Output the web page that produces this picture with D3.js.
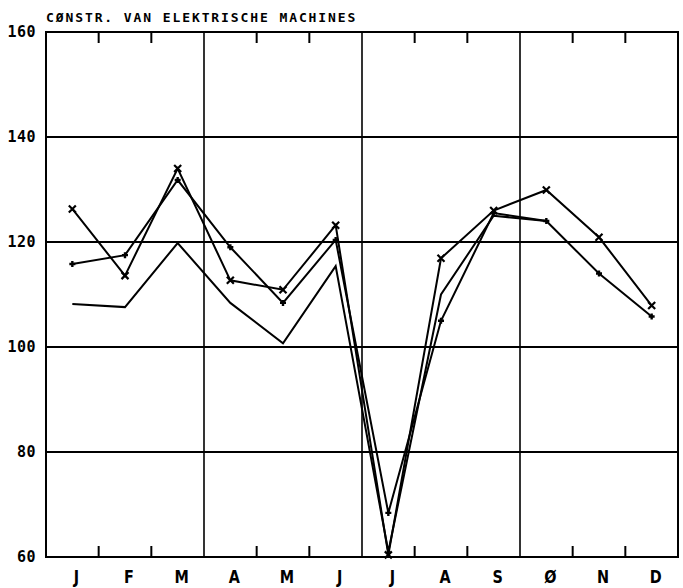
<!DOCTYPE html>
<html>
<head>
<meta charset="utf-8">
<script src="https://cdn.jsdelivr.net/npm/d3@7"></script>
<style>
  body { margin: 0; background: #fff; }
  svg text { fill: #000; }
</style>
</head>
<body>
<svg id="plot" width="683" height="588"></svg>
<script>
// chart data
var months = ["J", "F", "M", "A", "M", "J", "J", "A", "S", "Ø", "N", "D"];
var yTicks = [60, 80, 100, 120, 140, 160];
var seriesCross = [126.3, 113.6, 134.0, 112.7, 110.9, 123.2, 60.4, 116.9, 126.0, 129.9, 120.9, 107.9];
var seriesDot   = [115.8, 117.5, 131.8, 119.0, 108.4, 120.4, 68.4, 105.0, 125.5, 124.0, 114.0, 105.8];
var seriesPlain = [108.2, 107.6, 119.8, 108.4, 100.7, 115.4, 61.0, 110.0, 125.0, 124.0];
var title = "CØNSTR. VAN ELEKTRISCHE MACHINES";

var margin = {top: 32, right: 5, bottom: 31, left: 46},
    width = 683, height = 588;

var svg = d3.select("#plot");

var xScale = d3.scaleLinear()
    .domain([0, months.length])
    .range([margin.left, width - margin.right]);
var yScale = d3.scaleLinear()
    .domain([60, 160])
    .range([height - margin.bottom, margin.top]);

var x0 = xScale(0), x1 = xScale(12), y0 = yScale(60), y1 = yScale(160);

// horizontal grid
svg.append("g")
  .selectAll("line")
  .data(yTicks.filter(d => d > 60 && d < 160))
  .join("line")
    .attr("x1", x0).attr("x2", x1)
    .attr("y1", d => yScale(d)).attr("y2", d => yScale(d))
    .attr("stroke", "#000").attr("stroke-width", 2);

// quarter lines
svg.append("g")
  .selectAll("line")
  .data([3, 6, 9])
  .join("line")
    .attr("x1", d => xScale(d)).attr("x2", d => xScale(d))
    .attr("y1", y1).attr("y2", y0)
    .attr("stroke", "#000").attr("stroke-width", 1.6);

// month ticks top and bottom
var monthTicks = d3.range(1, 12).filter(d => d % 3 != 0);
svg.append("g")
  .selectAll("line")
  .data(monthTicks)
  .join("line")
    .attr("x1", d => xScale(d)).attr("x2", d => xScale(d))
    .attr("y1", y1).attr("y2", y1 + 11)
    .attr("stroke", "#000").attr("stroke-width", 2);
svg.append("g")
  .selectAll("line")
  .data(monthTicks)
  .join("line")
    .attr("x1", d => xScale(d)).attr("x2", d => xScale(d))
    .attr("y1", y0).attr("y2", y0 - 11)
    .attr("stroke", "#000").attr("stroke-width", 2);

// frame
svg.append("rect")
    .attr("x", x0).attr("y", y1)
    .attr("width", x1 - x0).attr("height", y0 - y1)
    .attr("fill", "none")
    .attr("stroke", "#000").attr("stroke-width", 2);

// y labels
svg.append("g")
  .selectAll("text")
  .data(yTicks)
  .join("text")
    .attr("x", 36)
    .attr("y", d => yScale(d) + 5)
    .attr("text-anchor", "end")
    .attr("font-family", "DejaVu Sans Mono")
    .attr("font-weight", "bold")
    .attr("font-size", 15)
    .attr("letter-spacing", 0.5)
    .text(d => d);

// month labels (narrow plotter lettering)
svg.append("g")
  .selectAll("text")
  .data(months)
  .join("text")
    .attr("transform", (d, i) => "translate(" + (xScale(i + 0.5) + 4) + ",583) scale(0.8,1)")
    .attr("text-anchor", "middle")
    .attr("font-family", "DejaVu Sans")
    .attr("font-weight", "bold")
    .attr("font-size", 18)
    .text(d => d);

// title
svg.append("text")
    .attr("x", x0)
    .attr("y", 22)
    .attr("font-family", "DejaVu Sans Mono")
    .attr("font-weight", "bold")
    .attr("font-size", 13)
    .attr("letter-spacing", 1.9)
    .text(title);

var line = d3.line()
    .x((d, i) => xScale(i + 0.5))
    .y(d => yScale(d));

[seriesPlain, seriesDot, seriesCross].forEach(function(s) {
  svg.append("path")
      .datum(s)
      .attr("fill", "none")
      .attr("stroke", "#000")
      .attr("stroke-width", 2)
      .attr("stroke-linejoin", "miter")
      .attr("d", line);
});

// markers: crosses
svg.append("g")
  .selectAll("path")
  .data(seriesCross)
  .join("path")
    .attr("transform", (d, i) => "translate(" + xScale(i + 0.5) + "," + yScale(d) + ")")
    .attr("d", "M-3.5,-3.5L3.5,3.5M-3.5,3.5L3.5,-3.5")
    .attr("stroke", "#000")
    .attr("stroke-width", 2.2);

// markers: small plus
svg.append("g")
  .selectAll("path")
  .data(seriesDot)
  .join("path")
    .attr("transform", (d, i) => "translate(" + xScale(i + 0.5) + "," + yScale(d) + ")")
    .attr("d", "M-3,0L3,0M0,-3L0,3")
    .attr("stroke", "#000")
    .attr("stroke-width", 2.4);
</script>
</body>
</html>
